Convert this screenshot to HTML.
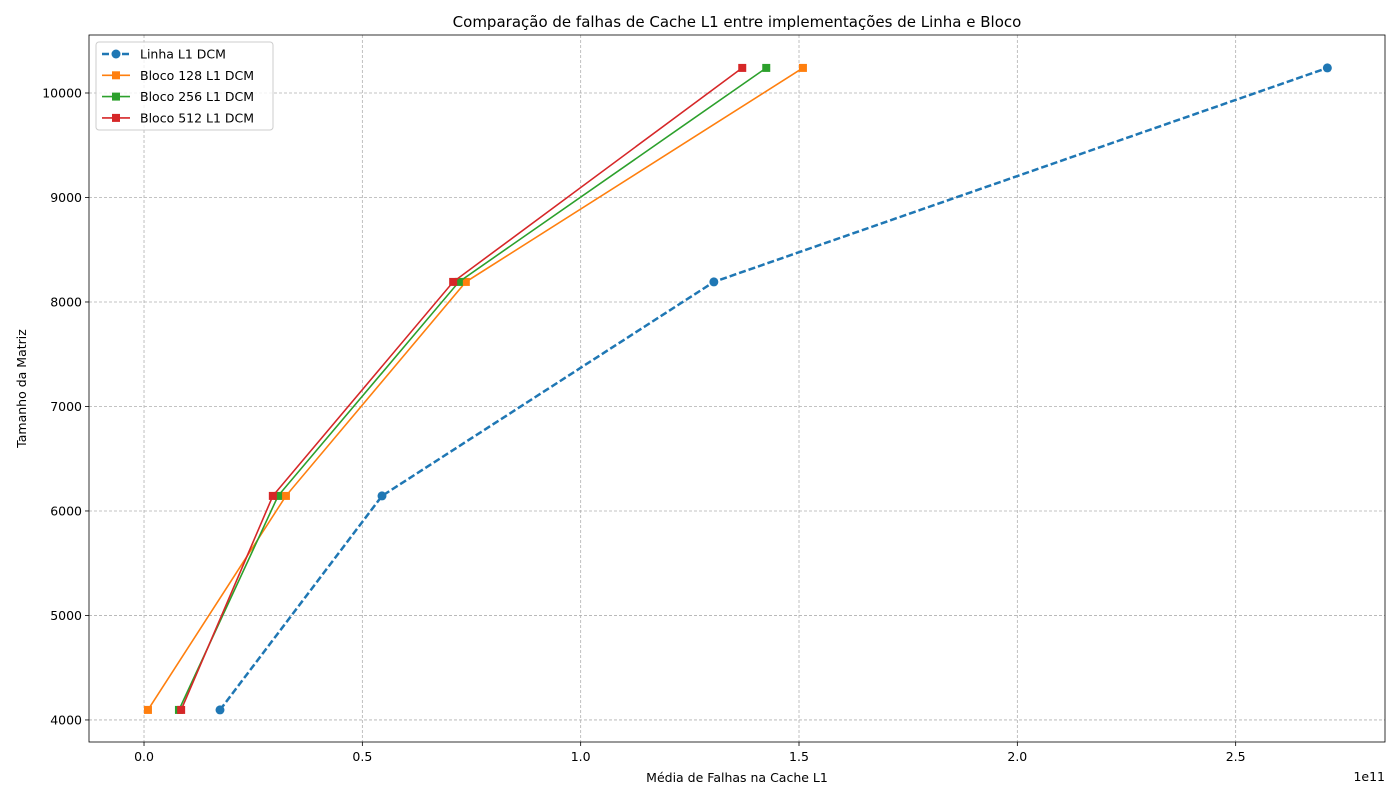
<!DOCTYPE html>
<html><head><meta charset="utf-8"><style>
body{margin:0;background:#fff;font-family:"Liberation Sans","DejaVu Sans",sans-serif;}
svg text{font-family:"DejaVu Sans","Liberation Sans",sans-serif;}
</style></head><body>
<svg id="c" width="1400" height="800" xmlns="http://www.w3.org/2000/svg"></svg>
<script>
const sizes=[4096,6144,8192,10240];
const linha=[0.174,0.545,1.305,2.71];
const bloco128=[0.009,0.325,0.737,1.509];
const bloco256=[0.080,0.307,0.721,1.425];
const bloco512=[0.085,0.295,0.708,1.370];
const xTicks=[0,0.5,1.0,1.5,2.0,2.5];
const xTickLabels=["0.0","0.5","1.0","1.5","2.0","2.5"];
const yTicks=[4000,5000,6000,7000,8000,9000,10000];

const L=89,R=1385,T=35,B=742;
const xMin=-0.126,xMax=2.842,yMin=3789,yMax=10555;
const X=v=>L+(v-xMin)/(xMax-xMin)*(R-L);
const Y=v=>B-(v-yMin)/(yMax-yMin)*(B-T);
const svg=document.getElementById('c');
const NS='http://www.w3.org/2000/svg';
function el(tag,attrs,parent){const e=document.createElementNS(NS,tag);for(const k in attrs)e.setAttribute(k,attrs[k]);(parent||svg).appendChild(e);return e;}

// grid + ticks
xTicks.forEach((t,i)=>{
  const g=el('line',{x1:X(t),x2:X(t),y1:T,y2:B,stroke:'#b0b0b0','stroke-dasharray':'3,2','stroke-width':0.8});
  
  
  el('line',{x1:X(t),x2:X(t),y1:B,y2:B+4,stroke:'#000','stroke-width':0.8});
  const tx=el('text',{x:X(t),y:B+19,'text-anchor':'middle','font-size':12.5});
  tx.textContent=xTickLabels[i];
  
  
});
yTicks.forEach(t=>{
  const g=el('line',{x1:L,x2:R,y1:Y(t),y2:Y(t),stroke:'#b0b0b0','stroke-dasharray':'3,2','stroke-width':0.8});
  
  
  el('line',{x1:L-4,x2:L,y1:Y(t),y2:Y(t),stroke:'#000','stroke-width':0.8});
  const tx=el('text',{x:L-7,y:Y(t)+4.5,'text-anchor':'end','font-size':12.5});
  tx.textContent=t;
  
  
});

const series=[
  {name:'Linha L1 DCM',data:linha,color:'#1f77b4',dash:'7,3',w:2.5,marker:'circle'},
  {name:'Bloco 128 L1 DCM',data:bloco128,color:'#ff7f0e',dash:'',w:1.6,marker:'square'},
  {name:'Bloco 256 L1 DCM',data:bloco256,color:'#2ca02c',dash:'',w:1.6,marker:'square'},
  {name:'Bloco 512 L1 DCM',data:bloco512,color:'#d62728',dash:'',w:1.6,marker:'square'}
];
function marker(s,x,y,parent){
  let m;
  if(s.marker==='circle')m=el('circle',{cx:x,cy:y,r:4.5,fill:s.color},parent);
  else m=el('rect',{x:x-4,y:y-4,width:8,height:8,fill:s.color},parent);
  return m;
}
series.forEach(s=>{
  const g=el('g',{});
  
  
  const pts=s.data.map((v,i)=>X(v)+','+Y(sizes[i])).join(' ');
  const p=el('polyline',{points:pts,fill:'none',stroke:s.color,'stroke-width':s.w,'stroke-dasharray':s.dash},g);
  
  
  s.data.forEach((v,i)=>{
    const m=marker(s,X(v),Y(sizes[i]),g);
    
    
  });
});

// frame
el('rect',{x:L,y:T,width:R-L,height:B-T,fill:'none',stroke:'#000','stroke-width':0.8});

// titles
let t=el('text',{x:(L+R)/2,y:27,'text-anchor':'middle','font-size':15});
t.textContent='Comparação de falhas de Cache L1 entre implementações de Linha e Bloco';


t=el('text',{x:(L+R)/2,y:782,'text-anchor':'middle','font-size':12.5});
t.textContent='Média de Falhas na Cache L1';


t=el('text',{x:26,y:(T+B)/2,'text-anchor':'middle','font-size':12.5,transform:'rotate(-90 26 '+((T+B)/2)+')'});
t.textContent='Tamanho da Matriz';


t=el('text',{x:R,y:781,'text-anchor':'end','font-size':12.5});
t.textContent='1e11';



// legend
const lg=el('g',{});


el('rect',{x:96,y:42,width:177,height:88,rx:3,fill:'#fff','fill-opacity':0.8,stroke:'#ccc'},lg);
series.forEach((s,i)=>{
  const y=54+i*21.3;
  const e=el('g',{},lg);
  
  
  el('line',{x1:102,x2:130,y1:y,y2:y,stroke:s.color,'stroke-width':s.w,'stroke-dasharray':s.dash},e);
  marker(s,116,y,e);
  const tx=el('text',{x:140,y:y+4.5,'font-size':12.5},e);
  tx.textContent=s.name;
});
</script>
</body></html>
